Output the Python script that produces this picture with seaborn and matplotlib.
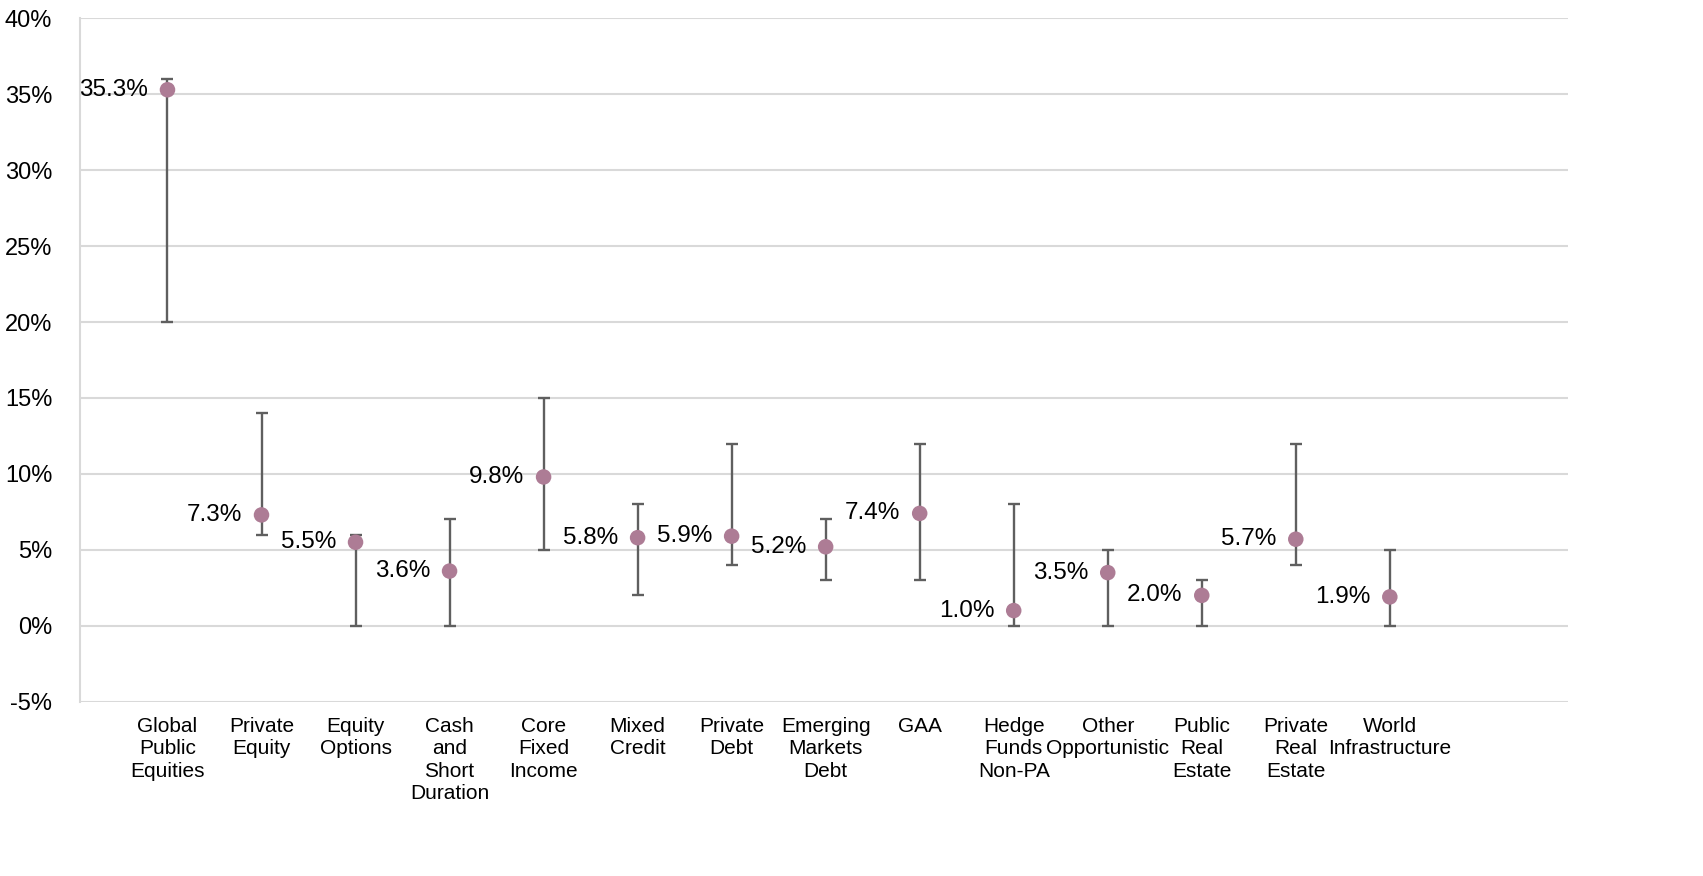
import matplotlib
matplotlib.use('Agg')
import matplotlib.pyplot as plt
import numpy as np
import pandas as pd
import seaborn as sns

# asset classes, point estimates and ranges (in %)
categories = ['Global\nPublic\nEquities', 'Private\nEquity', 'Equity\nOptions',
              'Cash\nand\nShort\nDuration', 'Core\nFixed\nIncome', 'Mixed\nCredit',
              'Private\nDebt', 'Emerging\nMarkets\nDebt', 'GAA', 'Hedge\nFunds\nNon-PA',
              'Other\nOpportunistic', 'Public\nReal\nEstate', 'Private\nReal\nEstate',
              'World\nInfrastructure']
values = [35.3, 7.3, 5.5, 3.6, 9.8, 5.8, 5.9, 5.2, 7.4, 1.0, 3.5, 2.0, 5.7, 1.9]
lows = [20, 6, 0, 0, 5, 2, 4, 3, 3, 0, 0, 0, 4, 0]
highs = [36, 14, 6, 7, 15, 8, 12, 7, 12, 8, 5, 3, 12, 5]

df = pd.DataFrame({'pos': np.arange(1, len(categories) + 1),
                   'value': values, 'low': lows, 'high': highs})

sns.set_style('white')
plt.rcParams['font.family'] = ['Liberation Sans Narrow', 'Liberation Sans', 'DejaVu Sans']

fig = plt.figure(figsize=(17.03, 8.76), dpi=100)
ax = fig.add_axes([0.047, 0.199, 0.874, 0.780])

# range bars
ax.errorbar(df['pos'], df['value'],
            yerr=[df['value'] - df['low'], df['high'] - df['value']],
            fmt='none', ecolor='#5f5f5f', elinewidth=1.7, capsize=4.5, capthick=1.7, zorder=2)

sns.scatterplot(data=df, x='pos', y='value', ax=ax, color='#AD7C95', s=125,
                edgecolor='none', zorder=3)

# value labels to the left of each point
for _, r in df.iterrows():
    ax.annotate(f"{r['value']:.1f}%", (r['pos'], r['value']), xytext=(-14, 0),
                textcoords='offset points', ha='right', va='center', fontsize=17.5,
                color='black')

ax.set_xlim(0.07, 15.9)
ax.set_ylim(-5, 40)
ax.set_yticks(np.arange(-5, 41, 5))
ax.set_yticklabels([f'{t}%' for t in range(-5, 41, 5)], fontsize=17, color='black')
ax.set_xticks(df['pos'])
ax.set_xticklabels(categories, fontsize=15, linespacing=1.22, va='top', color='black')
ax.tick_params(axis='both', length=0)
ax.tick_params(axis='x', pad=11)
ax.tick_params(axis='y', pad=20)

ax.grid(axis='y', color='#D9D9D9', linewidth=1.5)
ax.set_axisbelow(True)
for side in ['top', 'right', 'bottom']:
    ax.spines[side].set_visible(False)
ax.spines['left'].set_color('#D9D9D9')
ax.spines['left'].set_linewidth(1.5)
ax.set_xlabel('')
ax.set_ylabel('')

fig.savefig('out.png', dpi=100)
